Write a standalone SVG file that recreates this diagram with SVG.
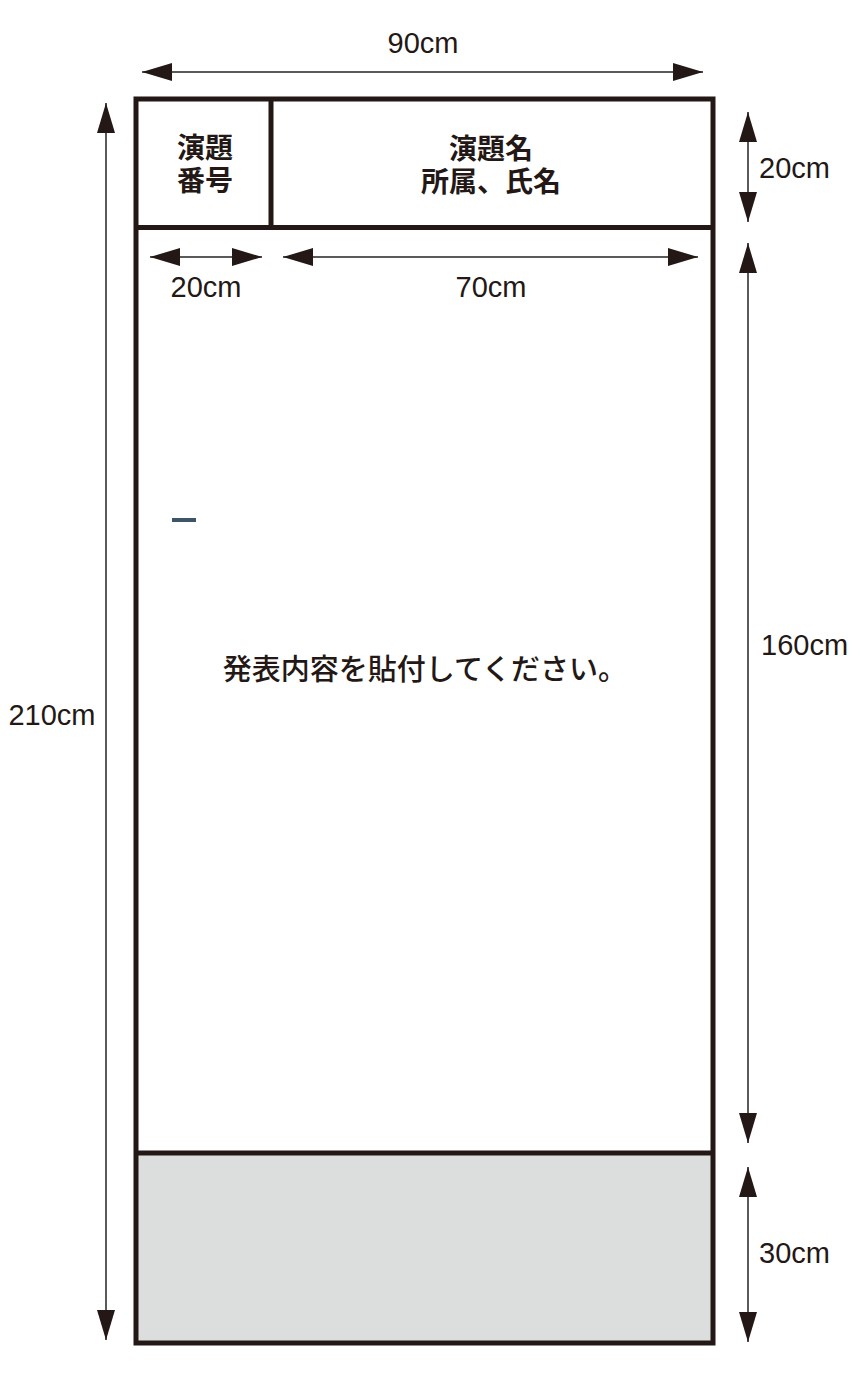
<svg xmlns="http://www.w3.org/2000/svg" width="862" height="1384" viewBox="0 0 862 1384">
<style>
.frame{fill:none;stroke:#231815;stroke-width:5}
.dim{stroke:#5a5a5a;stroke-width:2;fill:none;marker-start:url(#ah);marker-end:url(#ah)}
.dl{font-family:"Liberation Sans",Arial,sans-serif;font-size:29px;fill:#231815}
.jp{font-family:"Noto Sans CJK JP","Noto Sans",sans-serif;font-size:28px;font-weight:bold;fill:#231815;text-anchor:middle}
</style>
<defs>
<marker id="ah" viewBox="0 0 30 18" refX="30" refY="9" markerWidth="30" markerHeight="18" markerUnits="userSpaceOnUse" orient="auto-start-reverse">
<path d="M0,0 L30,9 L0,18 Z" fill="#231815"/>
</marker>
</defs>
<g id="footer-area">
<rect x="138" y="1155" width="573" height="187" fill="#dcdddd"/>
</g>
<g id="panel">
<rect class="frame" x="136" y="99" width="577" height="1244"/>
<line class="frame" x1="136" y1="227.5" x2="713" y2="227.5"/>
<line class="frame" x1="271" y1="99" x2="271" y2="227.5"/>
<line class="frame" x1="136" y1="1153" x2="713" y2="1153"/>
</g>
<g id="number-cell">
<text class="jp"><tspan x="205" y="158">演題</tspan><tspan x="205" y="191">番号</tspan></text>
</g>
<g id="title-cell">
<text class="jp"><tspan x="491" y="159">演題名</tspan><tspan x="491" y="192">所属、氏名</tspan></text>
</g>
<g id="content">
<text class="jp" x="425" y="680" style="font-weight:500;font-size:29px">発表内容を貼付してください。</text>
<line x1="172" y1="520" x2="196" y2="520" stroke="#3d5566" stroke-width="4"/>
</g>
<g id="connectors">
<line class="dim" x1="142" y1="72" x2="703" y2="72"/>
<line class="dim" x1="106" y1="103" x2="106" y2="1340"/>
<line class="dim" x1="748" y1="112" x2="748" y2="222"/>
<line class="dim" x1="748" y1="243" x2="748" y2="1143"/>
<line class="dim" x1="748" y1="1167" x2="748" y2="1342"/>
<line class="dim" x1="150" y1="257" x2="262" y2="257"/>
<line class="dim" x1="283" y1="257" x2="698" y2="257"/>
</g>
<g id="labels">
<text class="dl" x="423" y="53" text-anchor="middle">90cm</text>
<text class="dl" x="52" y="725" text-anchor="middle">210cm</text>
<text class="dl" x="759" y="178">20cm</text>
<text class="dl" x="761" y="655">160cm</text>
<text class="dl" x="759" y="1263">30cm</text>
<text class="dl" x="206" y="297" text-anchor="middle">20cm</text>
<text class="dl" x="491" y="297" text-anchor="middle">70cm</text>
</g>
</svg>
